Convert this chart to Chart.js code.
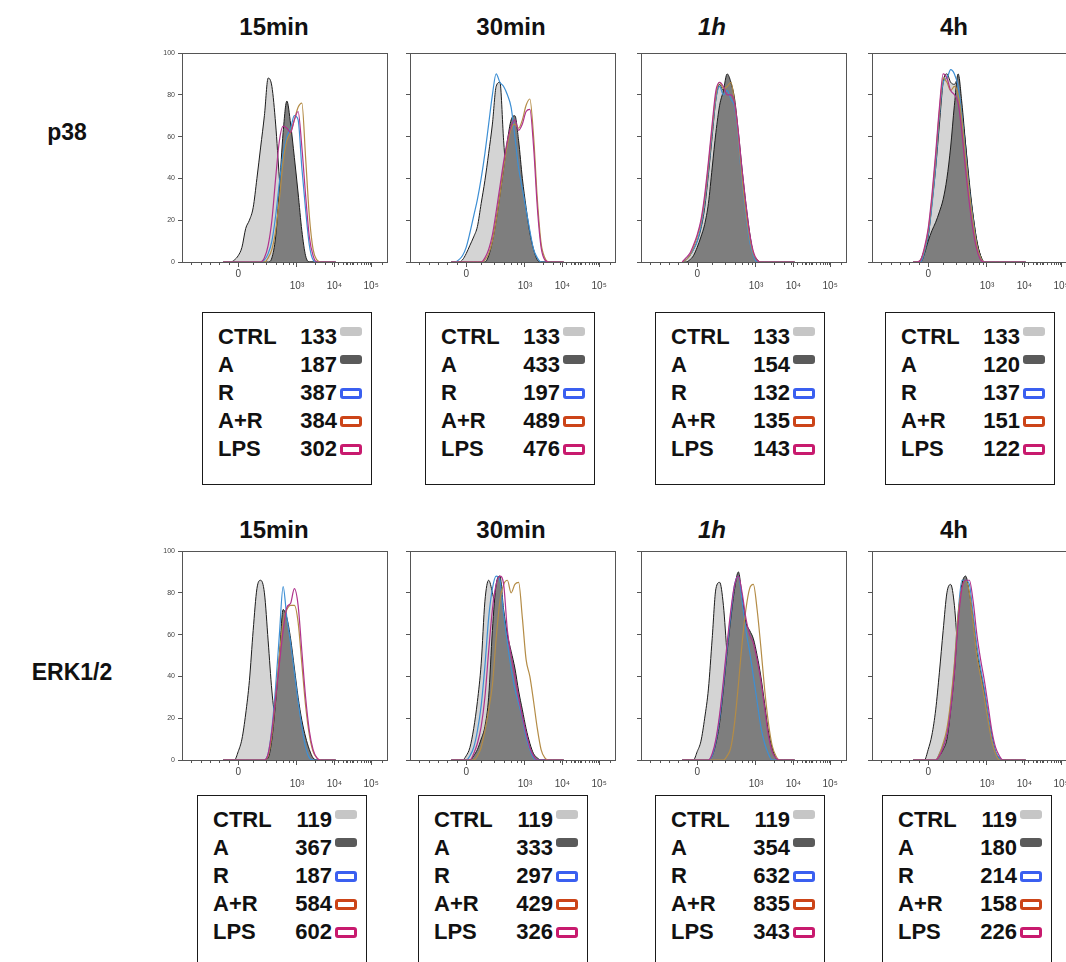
<!DOCTYPE html>
<html>
<head>
<meta charset="utf-8">
<script src="https://cdn.jsdelivr.net/npm/chart.js@4.4.1/dist/chart.umd.min.js"></script>
<style>
  html, body { margin: 0; padding: 0; background: #fff; }
  #page { position: relative; width: 1066px; height: 962px; overflow: hidden; font-family: "Liberation Sans", Arial, sans-serif; color: #111; }
  .title { position: absolute; font-weight: bold; font-size: 24px; transform: translate(-50%, -50%); white-space: nowrap; }
  .rowlab { position: absolute; font-weight: bold; font-size: 23px; transform: translate(-50%, -50%); white-space: nowrap; }
  canvas { position: absolute; }
  .leg { position: absolute; width: 170px; height: 173px; border: 1.5px solid #1a1a1a; box-sizing: border-box; padding: 10px 0 0 15px; font-weight: bold; font-size: 22px; }
  .row { display: flex; align-items: center; height: 28px; }
  .lab { width: 62px; }
  .val { width: 57px; text-align: right; }
  .sw { margin-left: 3px; width: 22px; box-sizing: border-box; border-radius: 3px; }
  .sw.fill { height: 9px; align-self: flex-start; margin-top: 4px; }
  .sw.line { height: 11px; border: 3px solid; }
</style>
</head>
<body>
<div id="page"></div>
<script>
// categories
const markers = ['p38', 'ERK1/2'];
const timepoints = ['15min', '30min', '1h', '4h'];
const groups = ['CTRL', 'A', 'R', 'A+R', 'LPS'];

// x axis (biexponential display units) and tick labels
const binX = [-0.4,-0.3,-0.2,-0.1,0,0.1,0.2,0.3,0.4,0.5,0.6,0.7,0.8,0.9,1.0,1.1,1.2,1.3,1.4,1.5,1.6,1.7,1.8,1.9,2.0,2.1,2.2,2.3,2.4,2.5,2.6];
const xTickValues = [0, 1.57, 2.57, 3.55];
const xTickLabels = ['0', '10³', '10⁴', '10⁵'];
const yTickValues = [0, 20, 40, 60, 80, 100];

// MFI shown in the legend boxes
const mfiP38 = [[133, 187, 387, 384, 302], [133, 433, 197, 489, 476], [133, 154, 132, 135, 143], [133, 120, 137, 151, 122]];
const mfiERK = [[119, 367, 187, 584, 602], [119, 333, 297, 429, 326], [119, 354, 632, 835, 343], [119, 180, 214, 158, 226]];

// histograms, % of max, one value per binX
const p38_15_CTRL = [0,0,0,1,3,7,16,20,26,40,55,70,88,84,66,40,18,8,3,1,0,0,0,0,0,0,0,0,0,0,0];
const p38_15_A    = [0,0,0,0,0,0,0,0,0,0,0,0,0,2,12,35,62,77,66,50,33,15,3,0,0,0,0,0,0,0,0];
const p38_15_R    = [0,0,0,0,0,0,0,0,0,0,0,1,4,10,22,38,52,60,64,70,68,45,25,8,1,0,0,0,0,0,0];
const p38_15_AR   = [0,0,0,0,0,0,0,0,0,0,0,0,2,6,15,30,48,58,62,68,74,76,50,22,6,1,0,0,0,0,0];
const p38_15_LPS  = [0,0,0,0,0,0,0,0,0,0,0,2,8,20,40,58,65,64,62,68,72,55,32,12,3,0,0,0,0,0,0];

const p38_30_CTRL = [0,0,0,1,4,8,12,17,28,39,52,66,84,86,58,35,20,10,4,1,0,0,0,0,0,0,0,0,0,0,0];
const p38_30_A    = [0,0,0,0,0,0,0,0,0,0,3,10,20,32,45,58,68,70,58,40,26,14,6,1,0,0,0,0,0,0,0];
const p38_30_R    = [0,0,1,3,7,14,22,30,40,52,66,80,90,86,84,80,74,60,45,35,25,15,6,2,0,0,0,0,0,0,0];
const p38_30_AR   = [0,0,0,0,0,0,0,0,0,1,4,10,20,32,45,56,64,66,64,68,75,78,60,30,9,2,0,0,0,0,0];
const p38_30_LPS  = [0,0,0,0,0,0,0,0,0,2,6,13,24,36,48,58,65,68,63,66,72,73,55,26,7,1,0,0,0,0,0];

const p38_1h_CTRL = [0,1,3,6,10,16,26,42,60,78,85,82,84,80,74,60,42,26,13,4,1,0,0,0,0,0,0,0,0,0,0];
const p38_1h_A    = [0,0,1,3,7,12,18,28,45,62,75,82,90,86,78,62,44,28,14,4,1,0,0,0,0,0,0,0,0,0,0];
const p38_1h_R    = [0,1,3,6,10,17,28,44,62,78,84,80,82,78,74,58,38,22,10,3,0,0,0,0,0,0,0,0,0,0,0];
const p38_1h_AR   = [0,1,3,7,12,19,30,46,64,80,86,83,84,86,76,60,40,24,12,4,1,0,0,0,0,0,0,0,0,0,0];
const p38_1h_LPS  = [0,2,4,8,13,20,32,48,66,82,86,84,80,80,76,62,44,28,14,5,1,0,0,0,0,0,0,0,0,0,0];

const p38_4h_CTRL = [0,0,1,6,12,28,45,66,86,90,86,85,88,72,56,38,22,10,3,0,0,0,0,0,0,0,0,0,0,0,0];
const p38_4h_A    = [0,0,0,4,10,15,19,24,30,40,55,75,90,76,56,36,22,10,3,0,0,0,0,0,0,0,0,0,0,0,0];
const p38_4h_R    = [0,0,0,5,13,27,46,70,86,88,92,90,84,70,52,34,20,8,2,0,0,0,0,0,0,0,0,0,0,0,0];
const p38_4h_AR   = [0,0,1,6,15,30,50,72,88,86,82,84,80,68,50,33,19,8,2,0,0,0,0,0,0,0,0,0,0,0,0];
const p38_4h_LPS  = [0,0,1,7,16,32,52,74,90,88,82,80,76,62,44,28,15,6,1,0,0,0,0,0,0,0,0,0,0,0,0];

const erk_15_CTRL = [0,0,0,0,4,10,22,38,62,82,86,80,57,33,18,10,6,3,1,0,0,0,0,0,0,0,0,0,0,0,0];
const erk_15_A    = [0,0,0,0,0,0,0,0,0,0,0,0,1,10,28,50,72,68,58,44,30,19,11,5,1,0,0,0,0,0,0];
const erk_15_R    = [0,0,0,0,0,0,0,0,0,0,0,0,3,15,35,60,83,68,56,42,28,16,6,1,0,0,0,0,0,0,0];
const erk_15_AR   = [0,0,0,0,0,0,0,0,0,0,0,0,2,12,30,50,66,72,74,74,66,46,26,12,4,1,0,0,0,0,0];
const erk_15_LPS  = [0,0,0,0,0,0,0,0,0,0,0,0,3,14,30,46,62,73,75,82,74,52,30,14,5,1,0,0,0,0,0];

const erk_30_CTRL = [0,0,0,0,2,6,15,28,46,76,86,80,70,42,20,10,5,3,2,1,0,0,0,0,0,0,0,0,0,0,0];
const erk_30_A    = [0,0,0,0,0,0,2,5,10,16,30,62,84,88,72,60,52,44,33,24,15,8,3,1,0,0,0,0,0,0,0];
const erk_30_R    = [0,0,0,0,0,2,6,14,26,45,68,82,88,86,70,56,44,34,27,20,11,5,1,0,0,0,0,0,0,0,0];
const erk_30_AR   = [0,0,0,0,0,0,0,2,6,14,24,36,58,76,84,86,80,84,85,68,48,40,28,15,5,1,0,0,0,0,0];
const erk_30_LPS  = [0,0,0,0,0,0,3,8,16,30,52,72,84,88,84,62,50,40,30,21,13,6,2,0,0,0,0,0,0,0,0];

const erk_1h_CTRL = [0,0,0,0,4,9,20,34,58,82,85,74,50,28,12,6,3,1,0,0,0,0,0,0,0,0,0,0,0,0,0];
const erk_1h_A    = [0,0,0,0,0,0,0,0,2,8,18,34,52,68,82,90,78,66,62,58,50,40,27,14,6,1,0,0,0,0,0];
const erk_1h_R    = [0,0,0,0,0,0,0,0,2,9,20,36,54,70,84,88,76,62,52,40,28,16,8,3,0,0,0,0,0,0,0];
const erk_1h_AR   = [0,0,0,0,0,0,0,0,0,0,0,0,2,6,18,36,56,72,82,84,72,54,34,18,7,2,0,0,0,0,0];
const erk_1h_LPS  = [0,0,0,0,0,0,0,0,3,10,22,38,56,72,84,88,80,68,60,56,48,38,25,12,4,1,0,0,0,0,0];

const erk_4h_CTRL = [0,0,0,0,5,12,24,42,62,80,84,74,50,30,14,8,4,2,0,0,0,0,0,0,0,0,0,0,0,0,0];
const erk_4h_A    = [0,0,0,0,0,0,0,2,5,10,24,42,68,84,88,80,68,52,42,33,22,12,4,1,0,0,0,0,0,0,0];
const erk_4h_R    = [0,0,0,0,0,0,0,3,7,13,26,45,70,86,86,84,70,55,44,34,22,11,4,1,0,0,0,0,0,0,0];
const erk_4h_AR   = [0,0,0,0,0,0,0,3,8,15,28,46,70,82,86,80,66,50,40,30,19,9,3,0,0,0,0,0,0,0,0];
const erk_4h_LPS  = [0,0,0,0,0,0,0,2,6,12,24,42,66,82,86,86,76,60,48,38,26,14,6,2,0,0,0,0,0,0,0];

const histP38 = [
  [p38_15_CTRL, p38_15_A, p38_15_R, p38_15_AR, p38_15_LPS],
  [p38_30_CTRL, p38_30_A, p38_30_R, p38_30_AR, p38_30_LPS],
  [p38_1h_CTRL, p38_1h_A, p38_1h_R, p38_1h_AR, p38_1h_LPS],
  [p38_4h_CTRL, p38_4h_A, p38_4h_R, p38_4h_AR, p38_4h_LPS]
];
const histERK = [
  [erk_15_CTRL, erk_15_A, erk_15_R, erk_15_AR, erk_15_LPS],
  [erk_30_CTRL, erk_30_A, erk_30_R, erk_30_AR, erk_30_LPS],
  [erk_1h_CTRL, erk_1h_A, erk_1h_R, erk_1h_AR, erk_1h_LPS],
  [erk_4h_CTRL, erk_4h_A, erk_4h_R, erk_4h_AR, erk_4h_LPS]
];

// styling
const lineColors = ['#1c1c1c', '#1c1c1c', '#3d8fd4', '#b48c46', '#b0328c'];
const fillColors = ['#d4d4d4', '#7e7e7e', null, null, null];
const swatchColors = ['#c6c6c6', '#5a5a5a', '#3a5ff0', '#cc4418', '#c81a6e'];

// minor ticks on the x axis: linear part, then log decades
const minorX = [-1.25, -1.0, -0.75, -0.5, -0.25, 0.4, 0.75, 1.0, 1.2, 1.35, 1.47];
for (let d = 0; d < xTickValues.length - 1; d++) {
  for (let m = 2; m < 10; m++) {
    minorX.push(xTickValues[d + 1] + Math.log10(m) * (xTickValues[d + 1] - xTickValues[d]));
  }
}

const framePlugin = {
  id: 'frame',
  afterDraw(chart) {
    const { ctx, chartArea: a, scales: { x } } = chart;
    ctx.save();
    ctx.strokeStyle = '#555';
    ctx.lineWidth = 1;
    ctx.strokeRect(Math.round(a.left) + 0.5, Math.round(a.top) + 0.5, Math.round(a.width) - 1, Math.round(a.height));
    ctx.beginPath();
    minorX.forEach(v => {
      if (v <= x.min || v >= x.max) return;
      const px = Math.round(x.getPixelForValue(v)) + 0.5;
      ctx.moveTo(px, a.bottom);
      ctx.lineTo(px, a.bottom + 3);
    });
    ctx.stroke();
    ctx.restore();
  }
};

const page = document.getElementById('page');
const plotLeft = [182, 410, 641, 872];
const plotTop = [53, 551];
const titleX = [274, 511, 712, 954];
const titleY = [27, 530];
const legLeft = [[202, 425, 655, 885], [197, 418, 655, 882]];
const legTop = [312, 795];
const rowLabPos = [[67, 132], [72, 672]];

function makePanel(r, c, series) {
  const cv = document.createElement('canvas');
  cv.width = 240; cv.height = 247;
  cv.style.left = (plotLeft[c] - 30) + 'px';
  cv.style.top = (plotTop[r] - 8) + 'px';
  page.appendChild(cv);

  const datasets = series.map((vals, i) => ({
    label: groups[i],
    data: binX.map((x, k) => ({ x: x, y: vals[k] })),
    borderColor: lineColors[i],
    borderWidth: i < 2 ? 1 : 1.2,
    backgroundColor: fillColors[i] || 'transparent',
    fill: fillColors[i] ? 'origin' : false,
    pointRadius: 0,
    cubicInterpolationMode: 'monotone',
    order: 5 - i
  }));

  new Chart(cv, {
    type: 'line',
    data: { datasets },
    options: {
      responsive: false,
      animation: false,
      devicePixelRatio: 1,
      layout: { padding: { top: 8, right: 4, left: 0, bottom: 0 } },
      plugins: { legend: { display: false }, tooltip: { enabled: false } },
      scales: {
        x: {
          type: 'linear', min: -1.5, max: 4.0,
          afterBuildTicks: s => { s.ticks = xTickValues.map(v => ({ value: v })); },
          afterFit: s => { s.height = 30; },
          ticks: {
            autoSkip: false, maxRotation: 0, padding: 1,
            font: { size: 10, family: 'Liberation Sans, Arial' }, color: '#444',
            callback: (v, i) => i === 0 ? [xTickLabels[0], ''] : ['', xTickLabels[i]]
          },
          grid: { drawOnChartArea: false, tickLength: 5, color: '#555' },
          border: { display: false }
        },
        y: {
          min: 0, max: 100,
          afterBuildTicks: s => { s.ticks = yTickValues.map(v => ({ value: v })); },
          afterFit: s => { s.width = 30; },
          ticks: {
            padding: 3,
            font: { size: 7, family: 'Liberation Sans, Arial' }, color: '#444',
            callback: v => c === 0 ? String(v) : ''
          },
          grid: { drawOnChartArea: false, tickLength: 4, color: '#555' },
          border: { display: false }
        }
      }
    },
    plugins: [framePlugin]
  });
}

function makeLegend(r, c, values) {
  const box = document.createElement('div');
  box.className = 'leg';
  box.style.left = legLeft[r][c] + 'px';
  box.style.top = legTop[r] + 'px';
  groups.forEach((g, i) => {
    const row = document.createElement('div');
    row.className = 'row';
    const sw = i < 2
      ? `<span class="sw fill" style="background:${swatchColors[i]}"></span>`
      : `<span class="sw line" style="border-color:${swatchColors[i]}"></span>`;
    row.innerHTML = `<span class="lab">${g}</span><span class="val">${values[i]}</span>${sw}`;
    box.appendChild(row);
  });
  page.appendChild(box);
}

[histP38, histERK].forEach((hist, r) => {
  const lab = document.createElement('div');
  lab.className = 'rowlab';
  lab.textContent = markers[r];
  lab.style.left = rowLabPos[r][0] + 'px';
  lab.style.top = rowLabPos[r][1] + 'px';
  page.appendChild(lab);

  timepoints.forEach((t, c) => {
    const ti = document.createElement('div');
    ti.className = 'title';
    ti.textContent = t;
    if (c === 2) ti.style.fontStyle = 'italic';
    ti.style.left = titleX[c] + 'px';
    ti.style.top = titleY[r] + 'px';
    page.appendChild(ti);

    makePanel(r, c, hist[c]);
    makeLegend(r, c, (r === 0 ? mfiP38 : mfiERK)[c]);
  });
});
</script>
</body>
</html>
